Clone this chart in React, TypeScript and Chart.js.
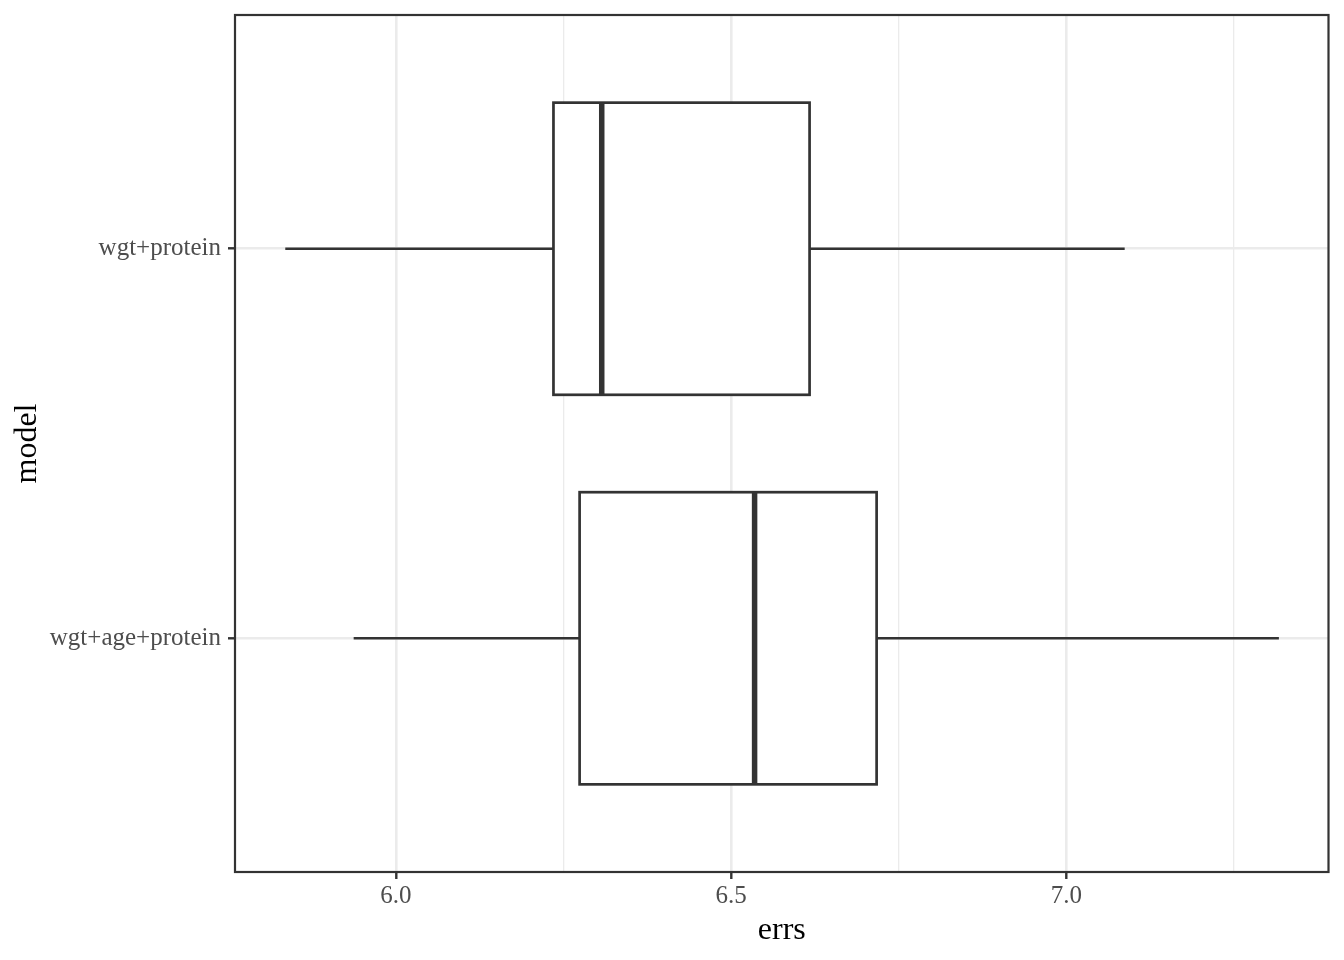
import React, { useEffect, useRef } from 'react';
import { Chart, registerables } from 'chart.js';

Chart.register(...registerables);

// ---- data ----
const categories = ['wgt+protein', 'wgt+age+protein'];
const whiskerLow = [5.835, 5.937];
const q1 = [6.235, 6.274];
const median = [6.307, 6.535];
const q3 = [6.617, 6.717];
const whiskerHigh = [7.087, 7.317];

const xMajorTicks = [6.0, 6.5, 7.0];
const xMinorTicks = [6.25, 6.75, 7.25];
const xLimits = [5.760, 7.391];
const xTitle = 'errs';
const yTitle = 'model';

const FONT = "'Liberation Serif', 'Times New Roman', serif";
const DARK = '#333333';
const GRID = '#ebebeb';

const isMajor = (v: number) => xMajorTicks.some((m) => Math.abs(m - v) < 1e-9);

const boxPlugin = {
  id: 'boxplotDecor',
  afterDatasetsDraw(chart: any) {
    const { ctx, chartArea, scales } = chart;
    const xs = scales.x;
    const ys = scales.y;
    const meta = chart.getDatasetMeta(0);
    ctx.save();
    ctx.strokeStyle = DARK;
    ctx.lineCap = 'butt';
    categories.forEach((_, i) => {
      const el: any = meta.data[i];
      const yc = ys.getPixelForValue(i + 1);
      const h = el.height;
      const top = yc - h / 2;
      const xl = xs.getPixelForValue(whiskerLow[i]);
      const x1 = xs.getPixelForValue(q1[i]);
      const xm = xs.getPixelForValue(median[i]);
      const x3 = xs.getPixelForValue(q3[i]);
      const xh = xs.getPixelForValue(whiskerHigh[i]);
      ctx.lineWidth = 2.7;
      ctx.beginPath();
      ctx.moveTo(xl, yc);
      ctx.lineTo(x1, yc);
      ctx.moveTo(x3, yc);
      ctx.lineTo(xh, yc);
      ctx.stroke();
      ctx.strokeRect(x1, top, x3 - x1, h);
      ctx.lineWidth = 5.5;
      ctx.beginPath();
      ctx.moveTo(xm, top);
      ctx.lineTo(xm, top + h);
      ctx.stroke();
    });
    // panel border
    ctx.lineWidth = 2.2;
    ctx.strokeStyle = DARK;
    ctx.strokeRect(
      chartArea.left,
      chartArea.top,
      chartArea.right - chartArea.left,
      chartArea.bottom - chartArea.top
    );
    ctx.restore();
  },
};

export default function App() {
  const canvasRef = useRef<HTMLCanvasElement | null>(null);

  useEffect(() => {
    if (!canvasRef.current) return;
    const chart = new Chart(canvasRef.current, {
      type: 'bar',
      data: {
        labels: categories,
        datasets: [
          {
            data: categories.map((_, i) => ({ x: [q1[i], q3[i]], y: i + 1 })) as any,
            backgroundColor: '#ffffff',
            borderWidth: 0,
            barPercentage: 0.75,
            categoryPercentage: 1,
          },
        ],
      },
      options: {
        indexAxis: 'y',
        animation: false,
        responsive: false,
        devicePixelRatio: 1,
        layout: { autoPadding: false, padding: { top: 15, right: 15.5, left: 0, bottom: 0 } },
        plugins: {
          legend: { display: false },
          tooltip: { enabled: false },
        },
        scales: {
          x: {
            type: 'linear',
            position: 'bottom',
            min: xLimits[0],
            max: xLimits[1],
            offset: false,
            afterBuildTicks: (axis: any) => {
              axis.ticks = [...xMajorTicks, ...xMinorTicks]
                .sort((a, b) => a - b)
                .map((v) => ({ value: v }));
            },
            afterFit: (axis: any) => {
              axis.height = 88;
              axis.paddingLeft = 0;
              axis.paddingRight = 0;
            },
            border: { display: false },
            grid: {
              offset: false,
              color: GRID,
              lineWidth: (c: any) => (isMajor(c.tick.value) ? 2.6 : 1.3),
              drawTicks: true,
              tickLength: 7,
              tickWidth: 2.4,
              tickColor: (c: any) => (isMajor(c.tick.value) ? DARK : 'rgba(0,0,0,0)'),
            },
            ticks: {
              autoSkip: false,
              maxRotation: 0,
              padding: 2,
              color: '#4d4d4d',
              font: { family: FONT, size: 25, lineHeight: 1.2 },
              callback: (v: any) => (isMajor(Number(v)) ? Number(v).toFixed(1) : ''),
            },
            title: {
              display: true,
              text: xTitle,
              color: '#000000',
              font: { family: FONT, size: 32, lineHeight: 1.2 },
              padding: { top: 0, bottom: 10 },
            },
          },
          y: {
            type: 'linear',
            position: 'left',
            reverse: true,
            min: 0.4,
            max: 2.6,
            offset: false,
            afterBuildTicks: (axis: any) => {
              axis.ticks = categories.map((_, i) => ({ value: i + 1 }));
            },
            afterFit: (axis: any) => {
              axis.width = 235;
              axis.paddingTop = 0;
              axis.paddingBottom = 0;
            },
            border: { display: false },
            grid: {
              offset: false,
              color: GRID,
              lineWidth: 2.6,
              drawTicks: true,
              tickLength: 7,
              tickWidth: 2.4,
              tickColor: DARK,
            },
            ticks: {
              autoSkip: false,
              padding: 7,
              color: '#4d4d4d',
              font: { family: FONT, size: 25, lineHeight: 1.2 },
              callback: (v: any) => categories[Math.round(Number(v)) - 1] ?? '',
            },
            title: {
              display: true,
              text: yTitle,
              color: '#000000',
              font: { family: FONT, size: 32, lineHeight: 1.2 },
              padding: { top: 8, bottom: 0 },
            },
          },
        },
      },
      plugins: [boxPlugin],
    } as any);
    return () => chart.destroy();
  }, []);

  return (
    <div style={{ position: 'absolute', left: 0, top: 0, width: 1344, height: 960, background: '#ffffff' }}>
      <canvas ref={canvasRef} width={1344} height={960} style={{ width: 1344, height: 960, display: 'block' }} />
    </div>
  );
}
